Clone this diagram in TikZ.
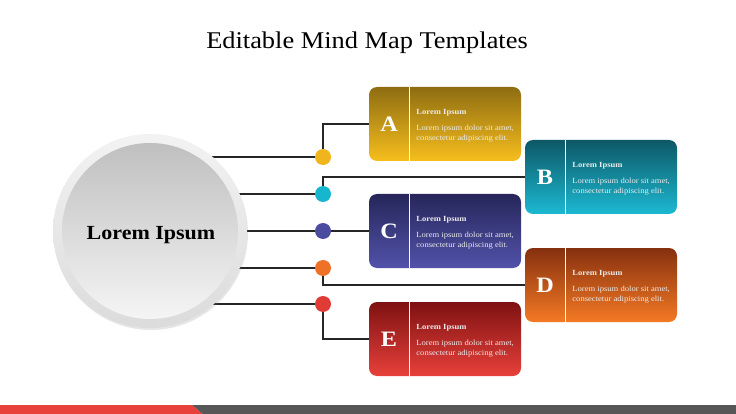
\documentclass[tikz,border=0pt]{standalone}
\usepackage{fontspec}
\setmainfont[FakeStretch=1.1]{Liberation Serif}
\usetikzlibrary{positioning,shadows,backgrounds}

\definecolor{dotA}{HTML}{F0B41C}
\definecolor{dotB}{HTML}{17B6CF}
\definecolor{dotC}{HTML}{4B4BA0}
\definecolor{dotD}{HTML}{EF7127}
\definecolor{dotE}{HTML}{E03C35}
\definecolor{topA}{HTML}{8E6D12}
\definecolor{botA}{HTML}{F7BE1D}
\definecolor{topB}{HTML}{0D5866}
\definecolor{botB}{HTML}{1CB9D2}
\definecolor{topC}{HTML}{26265A}
\definecolor{botC}{HTML}{5252AA}
\definecolor{topD}{HTML}{86300F}
\definecolor{botD}{HTML}{F47A24}
\definecolor{topE}{HTML}{7E1212}
\definecolor{botE}{HTML}{E8403A}
\definecolor{barred}{HTML}{E8403A}
\definecolor{bargray}{HTML}{575757}

\begin{document}
\begin{tikzpicture}[x=1pt, y=-1pt, every node/.style={inner sep=0pt}]
\useasboundingbox (0,0) rectangle (736,414);
\node (title) at (367,43) {\fontsize{24}{28}\selectfont Editable Mind Map Templates};

% footer bar
\fill[barred] (0,405) -- (192,405) -- (203,414) -- (0,414) -- cycle;
\fill[bargray] (192,405) -- (736,405) -- (736,414) -- (203,414) -- cycle;

% central circle
\node (rim) at (150,231) [circle, minimum size=194pt, top color=gray!10, bottom color=gray!28,
  drop shadow={shadow xshift=1pt, shadow yshift=-2pt, opacity=0.2}] {};
\node (circ) at (150,231) [circle, minimum size=176pt, top color=gray!50, bottom color=gray!8] {};
\node (ctext) at (151,235) [font=\fontsize{20}{22}\selectfont\bfseries] {Lorem Ipsum};

% dots
\tikzset{dot/.style={circle, minimum size=16pt, fill=#1}}
\node[dot=dotA] (dA) at (323,157) {};
\node[dot=dotB] (dB) at (323,194) {};
\node[dot=dotC] (dC) at (323,231) {};
\node[dot=dotD] (dD) at (323,268) {};
\node[dot=dotE] (dE) at (323,304) {};

% boxes
\tikzset{box/.style 2 args={rectangle, rounded corners=8pt, minimum width=152pt,
  minimum height=74pt, top color=#1, bottom color=#2}}
\tikzset{letter/.style={minimum width=40pt, minimum height=74pt, anchor=west, text=white,
  font=\fontsize{22}{24}\selectfont\bfseries}}
\tikzset{info/.style={anchor=west, align=left, text=white!92!black, yshift=-2pt,
  font=\fontsize{7.8}{10}\selectfont}}
\tikzset{divider/.style={draw=white!90!yellow, line width=1.3pt}}
\newcommand{\infotext}{\textbf{Lorem Ipsum}\\[6pt]Lorem ipsum dolor sit amet,\\consectetur adipiscing elit.}

\node[box={topA}{botA}] (boxA) at (445,124) {};
\node[box={topB}{botB}] (boxB) at (601,177) {};
\node[box={topC}{botC}] (boxC) at (445,231) {};
\node[box={topD}{botD}] (boxD) at (601,285) {};
\node[box={topE}{botE}] (boxE) at (445,339) {};

\node[letter] (lA) at (boxA.west) {A};
\node[letter] (lB) at (boxB.west) {B};
\node[letter] (lC) at (boxC.west) {C};
\node[letter] (lD) at (boxD.west) {D};
\node[letter] (lE) at (boxE.west) {E};

\draw[divider] (lA.north east) -- (lA.south east);
\draw[divider] (lB.north east) -- (lB.south east);
\draw[divider] (lC.north east) -- (lC.south east);
\draw[divider] (lD.north east) -- (lD.south east);
\draw[divider] (lE.north east) -- (lE.south east);

\node[info, right=7pt of lA.east] (tA) {\infotext};
\node[info, right=7pt of lB.east] (tB) {\infotext};
\node[info, right=7pt of lC.east] (tC) {\infotext};
\node[info, right=7pt of lD.east] (tD) {\infotext};
\node[info, right=7pt of lE.east] (tE) {\infotext};

% connectors
\tikzset{mystyle/.style={draw=black!85, line width=1.3pt}}
\begin{scope}[on background layer]
\draw[mystyle] (circ.center |- dA) -- (dA);
\draw[mystyle] (circ.center |- dB) -- (dB);
\draw[mystyle] (circ.center |- dC) -- (dC);
\draw[mystyle] (circ.center |- dD) -- (dD);
\draw[mystyle] (circ.center |- dE) -- (dE);
\draw[mystyle] (dA) |- (boxA.west);
\draw[mystyle] (dB) |- (boxB.west);
\draw[mystyle] (dC) -- (boxC.west);
\draw[mystyle] (dD) |- (boxD.west);
\draw[mystyle] (dE) |- (boxE.west);
\end{scope}
\end{tikzpicture}
\end{document}
